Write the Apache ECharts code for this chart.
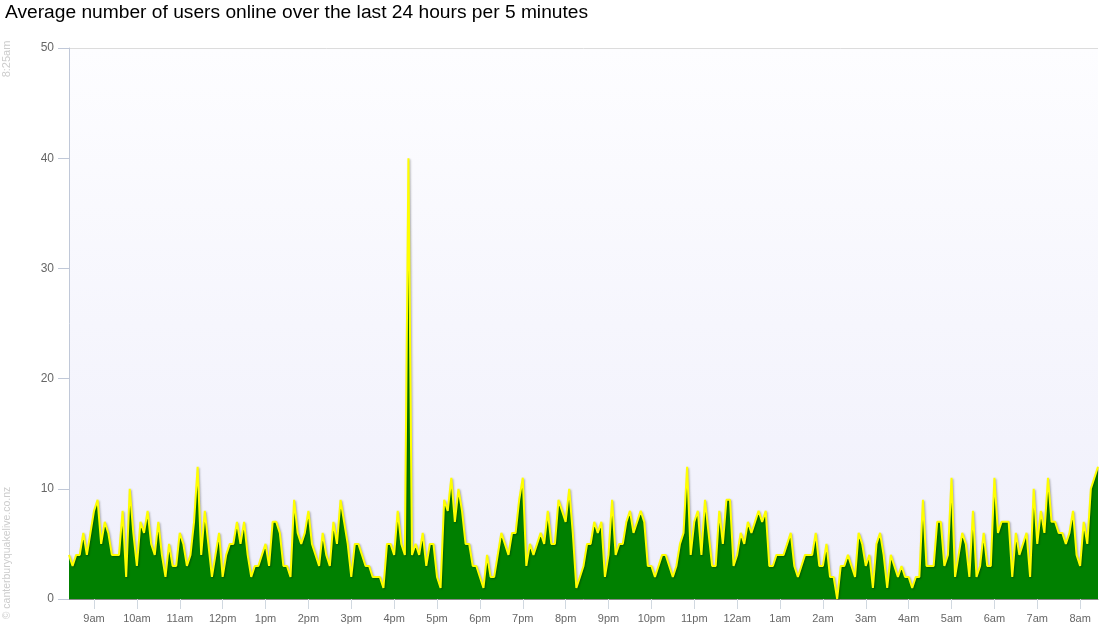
<!DOCTYPE html>
<html>
<head>
<meta charset="utf-8">
<title>Average number of users online</title>
<script src="https://cdn.jsdelivr.net/npm/echarts/dist/echarts.min.js"></script>
<style>
  html, body { margin: 0; padding: 0; background: #fff; }
  #main { width: 1100px; height: 640px; }
</style>
</head>
<body>
<div id="main"></div>
<script>
// first sample is 8:25am, then one every 5 minutes until 8:25am next day
const startMinutes = 8 * 60 + 25
const stepMinutes = 5

// hour tick labels
const hourLabels = ['9am', '10am', '11am', '12pm', '1pm', '2pm', '3pm', '4pm', '5pm', '6pm', '7pm', '8pm',
  '9pm', '10pm', '11pm', '12am', '1am', '2am', '3am', '4am', '5am', '6am', '7am', '8am']

const yTicks = [0, 10, 20, 30, 40, 50]

// average users online, 8:25am - 2:20pm
const usersMorning = [
  4, 3, 4, 4, 6, 4, 6, 8, 9, 5, 7, 6,
  4, 4, 4, 8, 2, 10, 6, 3, 7, 6, 8, 5,
  4, 7, 4, 2, 5, 3, 3, 6, 5, 3, 4, 7,
  12, 4, 8, 5, 2, 4, 6, 2, 4, 5, 5, 7,
  5, 7, 4, 2, 3, 3, 4, 5, 3, 7, 7, 6,
  3, 3, 2, 9, 6, 5, 6, 8, 5, 4, 3, 6
]
// 2:25pm - 8:20pm
const usersAfternoon = [
  4, 3, 7, 5, 9, 7, 5, 2, 5, 5, 4, 3,
  3, 2, 2, 2, 1, 5, 5, 4, 8, 5, 4, 40,
  4, 5, 4, 6, 3, 5, 5, 2, 1, 9, 8, 11,
  7, 10, 8, 5, 5, 3, 3, 2, 1, 4, 2, 2,
  4, 6, 5, 4, 6, 6, 9, 11, 3, 5, 4, 5,
  6, 5, 8, 5, 5, 9, 8, 7, 10, 6, 1, 2
]
// 8:25pm - 2:20am
const usersEvening = [
  3, 5, 5, 7, 6, 7, 2, 4, 9, 4, 5, 5,
  7, 8, 6, 7, 8, 7, 3, 3, 2, 3, 4, 4,
  3, 2, 3, 5, 6, 12, 4, 7, 8, 4, 9, 6,
  3, 3, 8, 5, 9, 9, 3, 4, 6, 5, 7, 6,
  7, 8, 7, 8, 3, 3, 4, 4, 4, 5, 6, 3,
  2, 3, 4, 4, 4, 6, 3, 3, 5, 2, 2, 0
]
// 2:25am - 8:25am
const usersNight = [
  3, 3, 4, 3, 2, 6, 5, 3, 4, 1, 5, 6,
  4, 1, 4, 3, 2, 3, 2, 2, 1, 2, 2, 9,
  3, 3, 3, 7, 7, 3, 4, 11, 2, 4, 6, 5,
  2, 8, 2, 3, 6, 3, 3, 11, 6, 7, 7, 7,
  2, 6, 4, 5, 6, 2, 10, 5, 8, 6, 11, 7,
  7, 6, 6, 5, 6, 8, 4, 3, 7, 5, 10, 11, 12
]

const usersOnline = usersMorning.concat(usersAfternoon, usersEvening, usersNight)

function timeLabel(i) {
  var m = (startMinutes + i * stepMinutes) % (24 * 60)
  var h = Math.floor(m / 60), mm = m % 60
  var ap = h < 12 ? 'am' : 'pm'
  var h12 = h % 12 === 0 ? 12 : h % 12
  return h12 + (mm ? ':' + (mm < 10 ? '0' : '') + mm : '') + ap
}
const times = usersOnline.map(function (v, i) { return timeLabel(i) })

function isHour(idx) {
  return (startMinutes + idx * stepMinutes) % 60 === 0
}

var FONT = 'Liberation Sans, Arial, sans-serif'

var myChart = echarts.init(document.getElementById('main'))
myChart.setOption({
  animation: false,
  textStyle: { fontFamily: FONT },
  title: {
    text: 'Average number of users online over the last 24 hours per 5 minutes',
    left: 5,
    top: 3,
    padding: 0,
    textStyle: { fontSize: 19.2, fontWeight: 'normal', color: '#000' }
  },
  grid: {
    show: true,
    left: 69,
    right: 2,
    top: 48,
    bottom: 41,
    borderWidth: 0,
    backgroundColor: new echarts.graphic.LinearGradient(0, 0, 0, 1, [
      { offset: 0, color: '#fdfdff' },
      { offset: 1, color: '#efeffb' }
    ])
  },
  graphic: [
    {
      type: 'text', x: 7, y: 59, rotation: Math.PI / 2,
      style: { text: '8:25am', x: 0, y: 0, align: 'center', verticalAlign: 'middle',
        fill: '#cccccc', fontSize: 11, fontFamily: FONT }
    },
    {
      type: 'text', x: 7, y: 553, rotation: Math.PI / 2,
      style: { text: '© canterburyquakelive.co.nz', x: 0, y: 0, align: 'center', verticalAlign: 'middle',
        fill: '#cccccc', fontSize: 10.5, fontFamily: FONT }
    }
  ],
  xAxis: {
    type: 'category',
    data: times,
    boundaryGap: false,
    axisLine: { lineStyle: { color: '#8a8a8a', width: 1 } },
    axisTick: {
      interval: function (idx) { return isHour(idx) },
      length: 10,
      lineStyle: { color: '#d0d8e0' }
    },
    axisLabel: {
      interval: function (idx) { return isHour(idx) },
      formatter: function (val) {
        var k = hourLabels.indexOf(val)
        return k >= 0 ? hourLabels[k] : ''
      },
      color: '#666',
      fontSize: 11,
      margin: 14
    },
    splitLine: { show: false }
  },
  yAxis: {
    type: 'value',
    min: yTicks[0],
    max: yTicks[yTicks.length - 1],
    interval: 10,
    axisLine: { show: true, lineStyle: { color: '#c0c8d8' } },
    axisTick: { show: true, length: 11, lineStyle: { color: '#c0c8d8' } },
    axisLabel: { color: '#666', fontSize: 12, margin: 15 },
    splitLine: {
      show: true,
      lineStyle: { color: ['rgba(0,0,0,0)', 'rgba(0,0,0,0)', 'rgba(0,0,0,0)', 'rgba(0,0,0,0)', 'rgba(0,0,0,0)', '#dcdcdc'] }
    }
  },
  series: [{
    name: 'Users online',
    type: 'line',
    data: usersOnline,
    showSymbol: false,
    symbol: 'none',
    lineStyle: {
      color: '#ffff00',
      width: 2,
      shadowColor: 'rgba(0,0,0,0.3)',
      shadowBlur: 2,
      shadowOffsetX: 1,
      shadowOffsetY: 1
    },
    areaStyle: { color: '#008000', opacity: 1 }
  }]
})
</script>
</body>
</html>
